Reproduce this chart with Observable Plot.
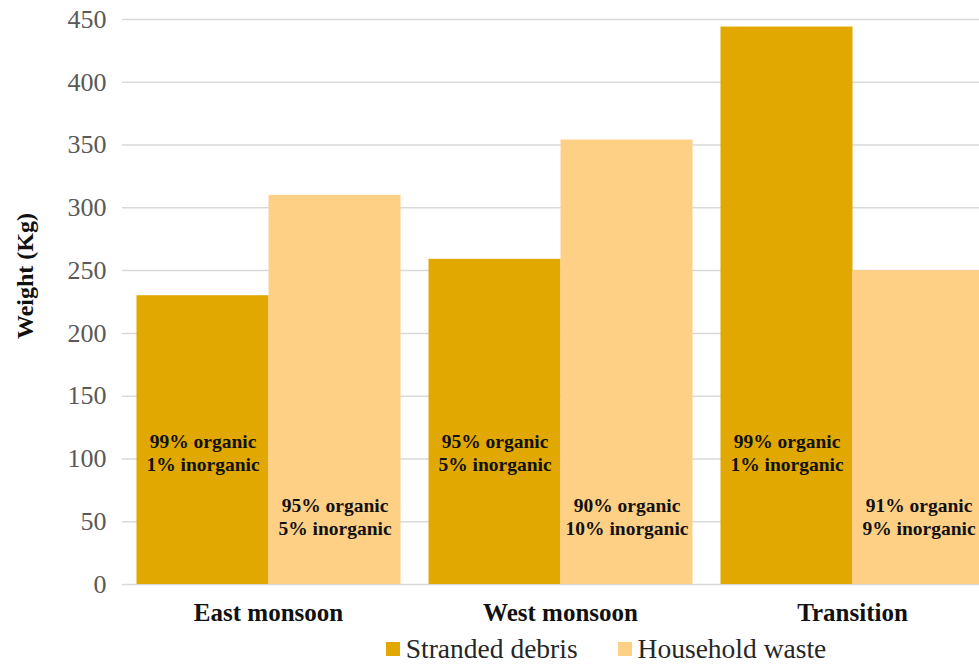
<!DOCTYPE html>
<html>
<head>
<meta charset="utf-8">
<script src="https://cdn.jsdelivr.net/npm/d3@7"></script>
<script src="https://cdn.jsdelivr.net/npm/@observablehq/plot@0.6"></script>
<style>
  html, body { margin: 0; padding: 0; background: #fff; overflow: hidden; }
  body { position: relative; width: 979px; height: 665px; }
  #chart svg { display: block; overflow: hidden; max-width: none; }
  .legend {
    position: absolute; left: 0; top: 634px; width: 979px;
    display: flex; justify-content: center; align-items: center;
    height: 30px; line-height: 30px;
    font-family: "Liberation Serif", "Times New Roman", serif;
    font-size: 27.5px; color: #262626; box-sizing: border-box; padding-left: 233px;
  }
  .legend .item { display: flex; align-items: center; margin: 0 20px; }
  .legend .swatch { width: 14px; height: 14px; margin-right: 6px; }
</style>
</head>
<body>
<div id="chart"></div>
<script>
// Seasons and waste sources
const categories = ["East monsoon", "West monsoon", "Transition"];
const series = ["Stranded debris", "Household waste"];

// Weight (Kg) per season
const strandedWeight = [230, 259, 444];
const householdWeight = [310, 354, 250];

// Composition shares (%)
const strandedOrganic = [99, 95, 99];
const strandedInorganic = [1, 5, 1];
const householdOrganic = [95, 90, 91];
const householdInorganic = [5, 10, 9];

const yTicks = [0, 50, 100, 150, 200, 250, 300, 350, 400, 450];
const colors = ["#E0A800", "#FED086"];

const data = categories.flatMap((category, i) => [
  {category, series: series[0], weight: strandedWeight[i], organic: strandedOrganic[i], inorganic: strandedInorganic[i]},
  {category, series: series[1], weight: householdWeight[i], organic: householdOrganic[i], inorganic: householdInorganic[i]}
]);

// vertical anchor of the composition note inside each bar
const noteLevel = {[series[0]]: 105.5, [series[1]]: 54.5};

const serif = "'Liberation Serif', 'Times New Roman', serif";

const chart = Plot.plot({
  width: 979,
  height: 632,
  marginTop: 19,
  marginBottom: 48,
  marginLeft: 121.5,
  marginRight: 0,
  style: {fontFamily: serif, background: "transparent", overflow: "hidden"},
  fx: {domain: categories, range: [121.5, 997.5], padding: 0, label: null},
  x: {domain: series, paddingInner: 0, paddingOuter: 0.102, axis: null},
  y: {domain: [0, 450], label: null, axis: null},
  color: {domain: series, range: colors},
  marks: [
    Plot.gridY(yTicks, {stroke: "#d9d9d9", strokeOpacity: 1, strokeWidth: 1.5}),
    Plot.barY(data, {fx: "category", x: "series", y: "weight", fill: "series"}),
    Plot.text(data, {
      fx: "category", x: "series",
      y: d => noteLevel[d.series],
      text: d => `${d.organic}% organic\n${d.inorganic}% inorganic`,
      fontWeight: "bold", fontSize: 19.5, lineHeight: 1.2, fill: "#111"
    }),
    Plot.axisY(yTicks, {
      anchor: "left", tickSize: 0, tickPadding: 16, label: null,
      fontSize: 26, color: "#595959"
    }),
    Plot.axisFx({
      anchor: "bottom", tickSize: 0, tickPadding: 19, label: null,
      fontSize: 25, fontWeight: "bold", color: "#111"
    }),
    Plot.text([{category: categories[0]}], {
      fx: "category",
      text: () => "Weight (Kg)",
      frameAnchor: "left", textAnchor: "middle", rotate: -90, dx: -97, dy: -26,
      fontWeight: "bold", fontSize: 24, fill: "#111"
    })
  ]
});

document.getElementById("chart").append(chart);

// Legend
const legend = document.createElement("div");
legend.className = "legend";
series.forEach((name, i) => {
  const item = document.createElement("div");
  item.className = "item";
  const sw = document.createElement("span");
  sw.className = "swatch";
  sw.style.background = colors[i];
  const label = document.createElement("span");
  label.textContent = name;
  item.append(sw, label);
  legend.append(item);
});
document.body.append(legend);
</script>
</body>
</html>
